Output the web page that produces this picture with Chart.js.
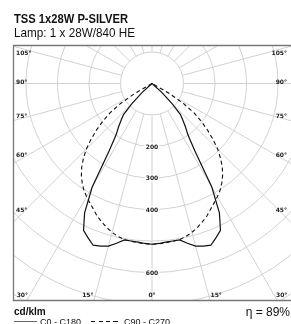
<!DOCTYPE html>
<html>
<head>
<meta charset="utf-8">
<script src="https://cdn.jsdelivr.net/npm/chart.js@4.4.1/dist/chart.umd.min.js"></script>
<style>
  html, body { margin: 0; padding: 0; background: #fff; }
  #wrap { position: relative; width: 291px; height: 324px; overflow: hidden; background: #fff; }
  #wrap canvas { position: absolute; left: 0; top: 0; }
  .txt { position: absolute; white-space: nowrap; color: #111; font-family: "Liberation Sans", Arial, sans-serif; }
  #t1 { left: 14px; top: 12px; font-size: 13px; line-height: 13px; font-weight: bold; transform: scaleX(0.86); transform-origin: 0 0; }
  #t2 { left: 14px; top: 25.5px; font-size: 13px; line-height: 13px; transform: scaleX(0.9); transform-origin: 0 0; }
  #unit { left: 14px; top: 306.5px; font-size: 10px; line-height: 10px; font-weight: bold; }
  #eta { right: 1px; top: 305.8px; font-size: 12px; line-height: 12px; }
  #legend { left: 14px; top: 318px; font-size: 9px; line-height: 9px; }
  .sw { display: inline-block; height: 1px; vertical-align: 3px; }
  .sw.solid { width: 23px; background: #666; margin-right: 3px; }
  .sw.dash { width: 30px; margin-left: 10px; margin-right: 3px;
    background: repeating-linear-gradient(90deg, #111 0 4px, transparent 4px 7.5px); }
</style>
</head>
<body>
<div id="wrap">
  <canvas id="c" width="291" height="324"></canvas>
  <div id="t1" class="txt">TSS 1x28W P-SILVER</div>
  <div id="t2" class="txt">Lamp: 1 x 28W/840 HE</div>
  <div id="unit" class="txt">cd/klm</div>
  <div id="eta" class="txt">η = 89%</div>
  <div id="legend" class="txt"><span class="sw solid"></span>C0 - C180<span class="sw dash"></span>C90 - C270</div>
</div>
<script>
// ---- data (cd/klm) ----
const gammaAngles = [0,2.5,5,7.5,10,12.5,15,17.5,20,22.5,25,27.5,30,32.5,35,37.5,40,42.5,45,47.5,50,52.5,55,57.5,60,62.5,65,67.5,70,72.5,75,77.5,80,82.5,85,87.5,90];
const c0c180  = [510,508,505,504,504,519,534,541,546,530,514,463,380,252,198,175,153,133,90,42,0,0,0,0,0,0,0,0,0,0,0,0,0,0,0,0,0];
const c90c270 = [510,509,507,505,503,497,489,479,467,455,440,427,415,402,386,368,347,322,295,262,230,197,163,118,62,0,0,0,0,0,0,0,0,0,0,0,0];
const seriesNames = ["C0 - C180", "C90 - C270"];
const gridCircles = [100,200,300,400,500,600,700,800,900];
const radialTickLabels = [200,300,400,600];
const sideAngleLabels = [105,90,75,60,45];
const bottomAngleLabels = [-30,-15,0,15,30];
const rayStep = 15;

function polarPoints(vals) {
  const pts = [];
  for (let i = gammaAngles.length - 1; i >= 0; i--) {
    const a = -gammaAngles[i] * Math.PI / 180;
    pts.push({x: vals[i] * Math.sin(a), y: -vals[i] * Math.cos(a)});
  }
  for (let i = 1; i < gammaAngles.length; i++) {
    const a = gammaAngles[i] * Math.PI / 180;
    pts.push({x: vals[i] * Math.sin(a), y: -vals[i] * Math.cos(a)});
  }
  return pts;
}

const polarGrid = {
  id: 'polarGrid',
  beforeDatasetsDraw(chart) {
    const ctx = chart.ctx, ca = chart.chartArea;
    const xs = chart.scales.x, ys = chart.scales.y;
    const cx = xs.getPixelForValue(0), cy = ys.getPixelForValue(0);
    const k = (xs.getPixelForValue(100) - cx) / 100;
    ctx.save();
    ctx.beginPath();
    ctx.rect(ca.left, ca.top, ca.right - ca.left, ca.bottom - ca.top);
    ctx.clip();
    ctx.strokeStyle = '#d2d2d2';
    ctx.lineWidth = 1;
    for (const r of gridCircles) {
      ctx.beginPath();
      ctx.arc(cx, cy, r * k, 0, Math.PI * 2);
      ctx.stroke();
    }
    const r0 = gridCircles[0] * k, r1 = 2000 * k;
    for (let a = 0; a < 360; a += rayStep) {
      const t = a * Math.PI / 180;
      const dx = Math.sin(t), dy = Math.cos(t);
      ctx.beginPath();
      ctx.moveTo(cx + dx * r0, cy + dy * r0);
      ctx.lineTo(cx + dx * r1, cy + dy * r1);
      ctx.stroke();
    }
    ctx.restore();

    // frame
    ctx.save();
    ctx.strokeStyle = '#777';
    ctx.lineWidth = 1.3;
    ctx.beginPath();
    ctx.moveTo(ca.right + 2, ca.top + 0.5);
    ctx.lineTo(ca.left + 0.5, ca.top + 0.5);
    ctx.lineTo(ca.left + 0.5, ca.bottom - 0.5);
    ctx.lineTo(ca.right + 2, ca.bottom - 0.5);
    ctx.stroke();
    ctx.restore();

    // radial tick labels
    ctx.save();
    ctx.font = 'bold 6px "DejaVu Sans", sans-serif';
    ctx.textAlign = 'center';
    ctx.textBaseline = 'middle';
    for (const v of radialTickLabels) {
      const y = ys.getPixelForValue(-v);
      const w = ctx.measureText(String(v)).width;
      ctx.fillStyle = '#fff';
      ctx.fillRect(cx - w / 2 - 1, y - 3.5, w + 2, 7);
      ctx.fillStyle = '#222';
      ctx.fillText(String(v), cx, y + 0.5);
    }
    // side angle labels
    const dxLab = 132;
    for (const a of sideAngleLabels) {
      const t = a * Math.PI / 180;
      let y = cy + dxLab * (Math.cos(t) / Math.sin(t)) * 0.97 - 1.5;
      y = Math.max(y, ca.top + 8);
      ctx.textAlign = 'left';
      ctx.fillText(a + '°', ca.left + 3, y);
      ctx.textAlign = 'right';
      ctx.fillText(a + '°', ca.right - 4, y);
    }
    // bottom angle labels
    const yb = ca.bottom - 6;
    ctx.textAlign = 'center';
    for (const a of bottomAngleLabels) {
      const t = Math.abs(a) * Math.PI / 180;
      const off = a === 0 ? 0 : (yb - cy) * Math.tan(t) + 7.5;
      const x = cx + Math.sign(a) * off;
      ctx.fillText(Math.abs(a) + '°', x, yb);
    }
    ctx.restore();
  }
};

new Chart(document.getElementById('c'), {
  type: 'scatter',
  data: {
    datasets: [
      { label: seriesNames[0], data: polarPoints(c0c180), showLine: true, borderColor: '#111',
        borderWidth: 1.2, pointRadius: 0, tension: 0, fill: false },
      { label: seriesNames[1], data: polarPoints(c90c270), showLine: true, borderColor: '#111',
        borderWidth: 1.1, borderDash: [4, 3], pointRadius: 0, tension: 0, fill: false }
    ]
  },
  options: {
    responsive: false,
    devicePixelRatio: 1,
    animation: false,
    layout: { padding: { left: 13, top: 45, right: 0, bottom: 23 } },
    plugins: { legend: { display: false }, tooltip: { enabled: false }, title: { display: false } },
    scales: {
      x: { type: 'linear', min: -441, max: 441, display: false },
      y: { type: 'linear', min: -690, max: 122, display: false }
    }
  },
  plugins: [polarGrid]
});
</script>
</body>
</html>
